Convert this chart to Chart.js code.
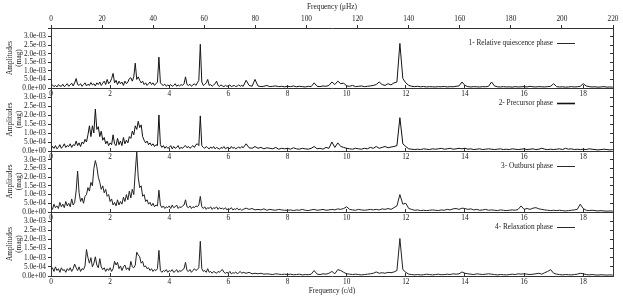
<!DOCTYPE html>
<html><head><meta charset="utf-8">
<script src="https://cdn.jsdelivr.net/npm/chart.js@4.4.0/dist/chart.umd.min.js"></script>
<style>
html,body{margin:0;padding:0;background:#fff;}
#wrap{position:relative;width:623px;height:300px;overflow:hidden;background:#fff;}
#wrap canvas{position:absolute;left:0;top:0;}
</style></head><body>
<div id="wrap">
<canvas id="c1" width="623" height="300"></canvas>
<canvas id="c2" width="623" height="300"></canvas>
<canvas id="c3" width="623" height="300"></canvas>
<canvas id="c4" width="623" height="300"></canvas>
</div>
<script>
// Frequency grid (c/d): 0.05 step up to 6.5, then 0.1 step to 19.0
const freqCd = [
 0.00,0.05,0.10,0.15,0.20,0.25,0.30,0.35,0.40,0.45,
 0.50,0.55,0.60,0.65,0.70,0.75,0.80,0.85,0.90,0.95,
 1.00,1.05,1.10,1.15,1.20,1.25,1.30,1.35,1.40,1.45,
 1.50,1.55,1.60,1.65,1.70,1.75,1.80,1.85,1.90,1.95,
 2.00,2.05,2.10,2.15,2.20,2.25,2.30,2.35,2.40,2.45,
 2.50,2.55,2.60,2.65,2.70,2.75,2.80,2.85,2.90,2.95,
 3.00,3.05,3.10,3.15,3.20,3.25,3.30,3.35,3.40,3.45,
 3.50,3.55,3.60,3.65,3.70,3.75,3.80,3.85,3.90,3.95,
 4.00,4.05,4.10,4.15,4.20,4.25,4.30,4.35,4.40,4.45,
 4.50,4.55,4.60,4.65,4.70,4.75,4.80,4.85,4.90,4.95,
 5.00,5.05,5.10,5.15,5.20,5.25,5.30,5.35,5.40,5.45,
 5.50,5.55,5.60,5.65,5.70,5.75,5.80,5.85,5.90,5.95,
 6.00,6.05,6.10,6.15,6.20,6.25,6.30,6.35,6.40,6.45,
 6.50,6.6,6.7,6.8,6.9,
 7.0,7.1,7.2,7.3,7.4,7.5,7.6,7.7,7.8,7.9,
 8.0,8.1,8.2,8.3,8.4,8.5,8.6,8.7,8.8,8.9,
 9.0,9.1,9.2,9.3,9.4,9.5,9.6,9.7,9.8,9.9,
 10.0,10.1,10.2,10.3,10.4,10.5,10.6,10.7,10.8,10.9,
 11.0,11.1,11.2,11.3,11.4,11.5,11.6,11.7,11.8,11.9,
 12.0,12.1,12.2,12.3,12.4,12.5,12.6,12.7,12.8,12.9,
 13.0,13.1,13.2,13.3,13.4,13.5,13.6,13.7,13.8,13.9,
 14.0,14.1,14.2,14.3,14.4,14.5,14.6,14.7,14.8,14.9,
 15.0,15.1,15.2,15.3,15.4,15.5,15.6,15.7,15.8,15.9,
 16.0,16.1,16.2,16.3,16.4,16.5,16.6,16.7,16.8,16.9,
 17.0,17.1,17.2,17.3,17.4,17.5,17.6,17.7,17.8,17.9,
 18.0,18.1,18.2,18.3,18.4,18.5,18.6,18.7,18.8,18.9,
 19.0
];

// Amplitudes in units of 1e-3 mag (same layout as freqCd)
const ampQuiescence = [
 0.10,0.18,0.08,0.15,0.06,0.20,0.12,0.10,0.22,0.08,
 0.15,0.25,0.10,0.18,0.28,0.12,0.30,0.55,0.20,0.15,
 0.25,0.10,0.20,0.30,0.12,0.22,0.15,0.32,0.18,0.25,
 0.12,0.30,0.20,0.35,0.15,0.28,0.40,0.20,0.50,0.25,
 0.35,0.55,0.85,0.30,0.45,0.20,0.40,0.25,0.35,0.15,
 0.40,0.25,0.35,0.55,0.60,0.40,0.65,1.45,0.50,0.65,
 0.45,0.30,0.40,0.20,0.30,0.15,0.25,0.35,0.20,0.30,
 0.15,0.25,0.35,1.80,0.30,0.20,0.15,0.22,0.10,0.18,
 0.12,0.20,0.10,0.15,0.25,0.10,0.18,0.12,0.20,0.15,
 0.25,0.65,0.20,0.15,0.22,0.10,0.18,0.25,0.15,0.30,
 0.45,2.55,0.35,0.15,0.20,0.30,0.50,0.15,0.20,0.10,
 0.18,0.25,0.40,0.15,0.10,0.18,0.12,0.08,0.15,0.10,
 0.12,0.18,0.08,0.12,0.15,0.08,0.12,0.18,0.10,0.15,
 0.10,0.45,0.15,0.10,0.50,
 0.12,0.08,0.10,0.15,0.08,0.10,0.12,0.08,0.10,0.07,
 0.10,0.08,0.12,0.07,0.10,0.08,0.06,0.10,0.08,0.30,
 0.10,0.08,0.12,0.10,0.15,0.35,0.20,0.40,0.25,0.28,
 0.12,0.10,0.15,0.08,0.10,0.12,0.08,0.10,0.12,0.15,
 0.20,0.35,0.20,0.15,0.25,0.18,0.30,0.35,2.60,0.55,
 0.30,0.15,0.10,0.08,0.10,0.07,0.09,0.06,0.08,0.07,
 0.06,0.08,0.07,0.09,0.06,0.08,0.07,0.10,0.12,0.35,
 0.15,0.08,0.06,0.08,0.07,0.06,0.08,0.07,0.10,0.35,
 0.12,0.07,0.06,0.08,0.06,0.07,0.05,0.08,0.06,0.07,
 0.08,0.06,0.10,0.07,0.06,0.08,0.07,0.06,0.08,0.10,
 0.25,0.08,0.06,0.07,0.05,0.06,0.08,0.06,0.07,0.10,
 0.25,0.12,0.08,0.06,0.07,0.05,0.06,0.08,0.05,0.06,
 0.05
];
const ampPrecursor = [
 0.10,0.25,0.15,0.30,0.12,0.20,0.35,0.15,0.25,0.40,
 0.20,0.30,0.25,0.40,0.20,0.35,0.30,0.55,0.30,0.45,
 0.25,0.50,0.40,0.65,0.50,0.90,1.40,0.80,1.40,1.00,
 2.33,1.20,1.35,0.80,1.10,0.60,0.75,0.40,0.55,0.30,
 0.45,0.35,0.90,0.40,0.30,0.70,0.35,0.55,0.30,0.75,
 0.40,0.60,0.45,0.80,0.70,1.10,0.90,1.40,1.20,1.65,
 1.30,1.45,0.80,0.60,0.45,0.55,0.35,0.45,0.30,0.40,
 0.25,0.35,0.30,2.00,0.35,0.20,0.30,0.15,0.25,0.15,
 0.20,0.30,0.12,0.25,0.15,0.20,0.30,0.12,0.20,0.15,
 0.25,0.30,0.18,0.25,0.15,0.22,0.30,0.20,0.35,0.40,
 0.30,1.95,0.30,0.20,0.15,0.25,0.18,0.12,0.22,0.15,
 0.25,0.12,0.20,0.15,0.10,0.20,0.15,0.25,0.12,0.18,
 0.20,0.12,0.25,0.15,0.20,0.12,0.18,0.22,0.15,0.25,
 0.18,0.40,0.18,0.15,0.25,
 0.15,0.20,0.12,0.18,0.15,0.12,0.20,0.10,0.15,0.12,
 0.15,0.10,0.18,0.12,0.10,0.15,0.12,0.10,0.15,0.25,
 0.12,0.15,0.10,0.20,0.15,0.50,0.20,0.45,0.25,0.20,
 0.15,0.12,0.10,0.15,0.12,0.10,0.15,0.12,0.20,0.15,
 0.25,0.15,0.20,0.25,0.18,0.22,0.25,0.30,1.85,0.40,
 0.25,0.12,0.10,0.08,0.10,0.08,0.12,0.10,0.08,0.12,
 0.10,0.12,0.15,0.10,0.12,0.15,0.10,0.12,0.15,0.12,
 0.15,0.10,0.12,0.08,0.10,0.12,0.08,0.10,0.12,0.10,
 0.08,0.10,0.12,0.08,0.10,0.08,0.12,0.10,0.08,0.10,
 0.12,0.08,0.10,0.12,0.08,0.10,0.15,0.10,0.08,0.10,
 0.08,0.10,0.12,0.08,0.15,0.10,0.12,0.08,0.10,0.08,
 0.10,0.08,0.12,0.10,0.08,0.06,0.08,0.10,0.08,0.06,
 0.08
];
const ampOutburst = [
 0.30,0.15,0.45,0.25,0.35,0.20,0.55,0.30,0.45,0.25,
 0.60,0.35,0.50,0.30,0.75,0.40,0.55,1.20,2.35,1.10,
 0.60,0.80,0.50,0.90,1.00,1.40,1.20,1.70,1.50,2.50,
 2.95,2.60,2.00,1.70,1.30,1.50,1.10,1.30,0.90,1.00,
 0.60,0.75,0.40,0.55,0.35,0.70,0.40,0.60,0.45,0.85,
 0.60,1.00,0.70,1.20,0.80,1.30,1.00,2.30,3.45,2.00,
 1.40,1.50,0.90,1.00,0.60,0.70,0.45,0.55,0.35,0.50,
 0.30,0.40,0.35,1.25,0.40,0.25,0.35,0.20,0.30,0.25,
 0.35,0.20,0.40,0.25,0.30,0.40,0.20,0.30,0.25,0.35,
 0.40,0.70,0.30,0.25,0.35,0.20,0.30,0.25,0.35,0.30,
 0.40,0.90,0.30,0.20,0.30,0.15,0.25,0.20,0.30,0.15,
 0.25,0.20,0.30,0.15,0.25,0.18,0.22,0.15,0.25,0.12,
 0.20,0.15,0.25,0.12,0.18,0.15,0.22,0.12,0.18,0.10,
 0.15,0.22,0.15,0.20,0.12,
 0.15,0.12,0.18,0.10,0.15,0.12,0.10,0.15,0.12,0.10,
 0.10,0.12,0.08,0.12,0.10,0.15,0.10,0.08,0.12,0.15,
 0.10,0.12,0.15,0.10,0.12,0.15,0.12,0.18,0.15,0.20,
 0.30,0.15,0.12,0.10,0.15,0.12,0.10,0.12,0.15,0.12,
 0.15,0.12,0.18,0.15,0.20,0.15,0.25,0.35,1.00,0.45,
 0.50,0.20,0.15,0.10,0.12,0.08,0.10,0.08,0.10,0.12,
 0.10,0.08,0.12,0.10,0.15,0.12,0.18,0.20,0.15,0.22,
 0.20,0.15,0.18,0.12,0.15,0.10,0.12,0.15,0.10,0.12,
 0.10,0.08,0.12,0.10,0.08,0.10,0.12,0.10,0.15,0.35,
 0.15,0.20,0.15,0.22,0.25,0.18,0.15,0.12,0.10,0.08,
 0.10,0.08,0.10,0.08,0.06,0.08,0.10,0.12,0.15,0.45,
 0.20,0.10,0.08,0.10,0.08,0.06,0.08,0.06,0.05,0.06,
 0.05
];
const ampRelaxation = [
 0.35,0.45,0.25,0.50,0.30,0.40,0.20,0.45,0.30,0.35,
 0.20,0.40,0.30,0.45,0.25,0.40,0.65,0.45,0.30,0.50,
 0.25,0.40,0.35,0.55,1.45,1.00,0.70,1.00,0.50,0.70,
 1.05,0.60,0.45,0.95,0.50,0.35,0.45,0.25,0.40,0.30,
 0.45,0.25,0.40,0.80,0.60,0.75,0.40,0.55,0.30,0.50,
 0.60,0.35,0.45,0.30,0.80,0.50,0.45,0.60,1.30,1.15,
 1.05,0.70,0.80,0.50,0.55,0.40,0.45,0.30,0.40,0.25,
 0.35,0.30,0.40,1.40,0.30,0.20,0.30,0.25,0.35,0.20,
 0.30,0.25,0.35,0.20,0.25,0.35,0.20,0.30,0.25,0.35,
 0.40,0.75,0.30,0.25,0.35,0.20,0.30,0.40,0.30,0.35,
 0.45,1.90,0.40,0.25,0.30,0.20,0.40,0.20,0.25,0.15,
 0.25,0.20,0.15,0.25,0.20,0.30,0.35,0.20,0.15,0.20,
 0.15,0.25,0.12,0.18,0.15,0.22,0.12,0.18,0.25,0.15,
 0.20,0.15,0.20,0.12,0.15,
 0.12,0.15,0.10,0.12,0.10,0.08,0.12,0.10,0.08,0.10,
 0.08,0.10,0.07,0.08,0.10,0.06,0.08,0.07,0.10,0.30,
 0.10,0.08,0.12,0.10,0.15,0.25,0.12,0.35,0.30,0.20,
 0.12,0.10,0.08,0.10,0.08,0.06,0.08,0.10,0.12,0.15,
 0.22,0.15,0.18,0.15,0.20,0.18,0.22,0.30,2.05,0.35,
 0.20,0.10,0.08,0.06,0.08,0.06,0.07,0.10,0.08,0.06,
 0.08,0.10,0.07,0.08,0.10,0.08,0.12,0.10,0.12,0.22,
 0.15,0.12,0.10,0.08,0.12,0.10,0.08,0.10,0.12,0.10,
 0.08,0.06,0.08,0.07,0.06,0.08,0.10,0.08,0.12,0.10,
 0.12,0.10,0.08,0.10,0.12,0.15,0.10,0.18,0.25,0.35,
 0.15,0.10,0.08,0.06,0.08,0.07,0.06,0.08,0.10,0.15,
 0.12,0.08,0.06,0.08,0.06,0.05,0.07,0.06,0.05,0.06,
 0.05
];

const phaseLabels = [
 '1- Relative quiescence phase',
 '2- Precursor phase',
 '3- Outburst phase',
 '4- Relaxation phase'
];
const ampUnit = 1e-3;                 // stored amplitudes are in 1e-3 mag
const uHzPerCd = 11.574;              // 1 c/d = 11.574 µHz
const topMaxUHz = 220;
const xMaxCd = topMaxUHz / uHzPerCd;  // ~19.008 c/d
const yMax = 3.5;

const FONT = "'Liberation Serif','DejaVu Serif',serif";
Chart.defaults.font.family = FONT;
Chart.defaults.font.size = 7.3;
Chart.defaults.color = '#222';

function fmtExp(v) {
  if (v >= yMax - 1e-9) return '';
  const s = (v * ampUnit).toExponential(1);
  return s.replace(/e([+-])(\d)$/, 'e$10$2');
}

const phaseLegend = {
  id: 'phaseLegend',
  afterDraw(chart, args, opts) {
    const {ctx, chartArea} = chart;
    const ds = chart.data.datasets[0];
    ctx.save();
    ctx.font = '7.3px ' + FONT;
    ctx.fillStyle = '#222';
    ctx.textAlign = 'right';
    ctx.textBaseline = 'middle';
    const y = chartArea.top + opts.dy;
    const x1 = chartArea.right - opts.endOffset - opts.lineLen;
    ctx.fillText(ds.label, x1 - 4, y);
    ctx.strokeStyle = '#111';
    ctx.lineWidth = opts.lineW;
    ctx.beginPath();
    ctx.moveTo(x1, y + 0.5);
    ctx.lineTo(x1 + opts.lineLen, y + 0.5);
    ctx.stroke();
    ctx.restore();
  }
};

function makePanel(id, amps, label, cfg) {
  const scales = {
    x: {
      type: 'linear', position: 'bottom', min: 0, max: xMaxCd,
      afterFit: s => { s.height = cfg.bottomH; },
      ticks: { stepSize: 2, includeBounds: false, padding: 5, maxRotation: 0, autoSkip: false },
      grid: { drawOnChartArea: false, tickLength: -3, color: '#333' },
      border: { color: '#333', width: 1 },
      title: { display: !!cfg.bottomTitle, text: 'Frequency (c/d)', padding: { top: 0, bottom: 5 } }
    },
    y: {
      type: 'linear', position: 'left', min: 0, max: yMax,
      afterFit: s => { s.width = 51; },
      ticks: { stepSize: 0.5, padding: 2, autoSkip: false, callback: v => fmtExp(v) },
      grid: { drawOnChartArea: false, tickLength: 3, color: '#333' },
      border: { color: '#333', width: 1 },
      title: { display: true, text: ['Amplitudes', '(mag)'], padding: { top: 6, bottom: 0 } }
    },
    yR: {
      type: 'linear', position: 'right', min: 0, max: yMax,
      afterFit: s => { s.width = 0; },
      ticks: { stepSize: 0.5, display: false, autoSkip: false },
      grid: { drawOnChartArea: false, tickLength: -3, color: '#333' },
      border: { color: '#333', width: 1 }
    }
  };
  if (cfg.topAxis) {
    scales.xTop = {
      type: 'linear', position: 'top', min: 0, max: topMaxUHz,
      afterFit: s => { s.height = cfg.topH; },
      ticks: { stepSize: 20, padding: 2, maxRotation: 0, autoSkip: false },
      grid: { drawOnChartArea: false, tickLength: 3, color: '#333' },
      border: { color: '#333', width: 1 },
      title: { display: true, text: 'Frequency (\u03bcHz)', padding: { top: 3, bottom: 0 } }
    };
  }
  return new Chart(document.getElementById(id), {
    type: 'line',
    data: {
      datasets: [{
        label: label,
        data: amps.map((a, i) => ({ x: freqCd[i], y: a })),
        borderColor: cfg.color,
        borderWidth: cfg.lw,
        pointRadius: 0,
        tension: 0,
        fill: false
      }]
    },
    options: {
      responsive: false,
      animation: false,
      devicePixelRatio: 1,
      layout: { padding: { left: 0, right: 10, top: cfg.padTop, bottom: cfg.padBottom } },
      plugins: {
        legend: { display: false },
        tooltip: { enabled: false },
        phaseLegend: { dy: 15, endOffset: 38, lineLen: 18, lineW: cfg.legendW }
      },
      scales: scales
    },
    plugins: [phaseLegend]
  });
}

makePanel('c1', ampQuiescence, phaseLabels[0], { topAxis: true, topH: 28, padTop: 0, padBottom: 200, bottomH: 12, color: '#151515', lw: 1, legendW: 0.9 });
makePanel('c2', ampPrecursor, phaseLabels[1], { padTop: 88, padBottom: 137, bottomH: 12, color: '#111', lw: 1, legendW: 1.6 });
makePanel('c3', ampOutburst, phaseLabels[2], { padTop: 151, padBottom: 76, bottomH: 12, color: '#222', lw: 1, legendW: 0.9 });
makePanel('c4', ampRelaxation, phaseLabels[3], { padTop: 212, padBottom: 0, bottomH: 24, bottomTitle: true, color: '#222', lw: 1, legendW: 0.9 });
</script>
</body></html>
